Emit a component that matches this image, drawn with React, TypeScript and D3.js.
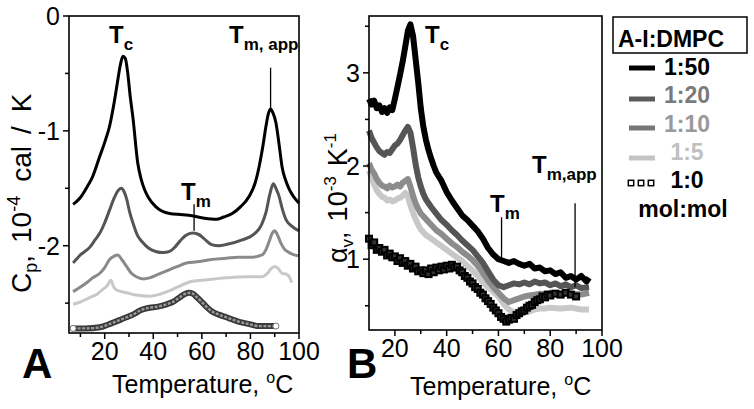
import React from 'react';
import * as d3 from 'd3';

const FONT = "'Liberation Sans', Arial, Helvetica, sans-serif";

// ---------- Panel A: Cp (10^-4 cal/K) vs temperature ----------
const cp50: [number, number][] = [[7,-1.64],[10,-1.58],[12.7,-1.49],[15,-1.40],[18,-1.22],[20,-1.10],[22,-0.96],[24,-0.74],[25,-0.61],[26.5,-0.42],[27.5,-0.35],[28.5,-0.37],[29.5,-0.50],[30.5,-0.70],[31.6,-0.88],[33.6,-1.28],[35,-1.42],[36.4,-1.51],[38,-1.58],[41,-1.66],[46.7,-1.72],[52,-1.73],[56,-1.74],[61,-1.76],[66,-1.77],[69,-1.75],[72.5,-1.72],[76,-1.66],[79.5,-1.57],[82,-1.45],[83.6,-1.31],[85,-1.15],[86.4,-0.96],[87.4,-0.85],[88.3,-0.81],[89.2,-0.84],[90.5,-0.93],[92,-1.15],[93,-1.31],[94.5,-1.43],[96,-1.51],[98,-1.58],[100,-1.63]];
const cp20: [number, number][] = [[7,-2.15],[10,-2.08],[14,-2.01],[16,-1.95],[18,-1.89],[20,-1.80],[22,-1.69],[24,-1.58],[25.5,-1.52],[26.8,-1.50],[28,-1.53],[29,-1.59],[30.2,-1.70],[31.6,-1.80],[33.5,-1.91],[35.6,-1.97],[38,-2.02],[41,-2.05],[44,-2.06],[46.7,-2.05],[49,-2.01],[51,-1.96],[53.5,-1.91],[56,-1.89],[58.5,-1.90],[61,-1.94],[64,-1.99],[67,-2.00],[70,-1.99],[76.6,-1.95],[82,-1.89],[84.5,-1.82],[86.4,-1.71],[88,-1.55],[89.4,-1.46],[90.5,-1.50],[91.8,-1.57],[93,-1.67],[94.6,-1.77],[97,-1.83],[100,-1.87]];
const cp10: [number, number][] = [[7,-2.40],[10,-2.36],[12.7,-2.32],[15,-2.28],[18,-2.24],[20,-2.19],[22,-2.12],[24,-2.09],[25.4,-2.08],[27,-2.12],[29,-2.18],[31,-2.24],[33,-2.27],[36,-2.29],[38.5,-2.28],[42,-2.25],[45.5,-2.22],[50,-2.18],[53.7,-2.15],[58,-2.14],[64,-2.12],[70,-2.11],[75,-2.10],[80,-2.10],[84.8,-2.08],[86.5,-2.03],[87.6,-1.97],[89,-1.89],[90,-1.87],[91,-1.90],[92.6,-1.98],[94,-2.03],[96,-2.06],[98,-2.08],[100,-2.09]];
const cp5: [number, number][] = [[7,-2.51],[10,-2.49],[14,-2.45],[17,-2.42],[19.2,-2.38],[21,-2.35],[22.5,-2.30],[23.5,-2.35],[24.5,-2.38],[27,-2.40],[29,-2.41],[33,-2.43],[38.5,-2.44],[43,-2.42],[48,-2.38],[52,-2.34],[56,-2.31],[60,-2.30],[65,-2.29],[70,-2.28],[78,-2.27],[84.8,-2.27],[87,-2.24],[88.5,-2.20],[90,-2.18],[91.5,-2.20],[93,-2.24],[95,-2.25],[96,-2.27],[97,-2.32]];
const cp0: [number, number][] = [[7,-2.72],[12,-2.72],[18,-2.71],[21,-2.69],[23.5,-2.67],[27,-2.64],[31.6,-2.60],[35,-2.56],[38.5,-2.54],[42,-2.53],[45.5,-2.51],[48,-2.49],[50.8,-2.45],[53,-2.42],[55,-2.41],[56.5,-2.42],[57.5,-2.44],[59.5,-2.48],[61.8,-2.53],[64,-2.57],[67,-2.60],[71,-2.63],[75,-2.66],[79,-2.68],[83.6,-2.70],[90.5,-2.70]];

// ---------- Panel B: alpha_v (10^-3 K^-1) vs temperature ----------
const av50: [number, number][] = [[10,2.72],[11,2.66],[12,2.70],[13,2.62],[14,2.65],[15,2.58],[16,2.62],[17,2.57],[18,2.63],[19,2.60],[20,2.72],[21,2.85],[22,2.98],[23,3.12],[24,3.28],[25,3.45],[26,3.52],[27,3.40],[28,3.15],[29,2.90],[30,2.62],[31,2.42],[32,2.28],[33,2.17],[34,2.08],[35,2.00],[36,1.93],[38,1.84],[40,1.72],[42,1.63],[44,1.55],[46,1.47],[48,1.42],[50,1.36],[52,1.30],[54,1.22],[56,1.12],[58,1.05],[60,1.00],[62,0.98],[64,0.96],[66,0.98],[68,0.95],[70,0.93],[72,0.95],[74,0.90],[76,0.91],[78,0.87],[80,0.88],[82,0.84],[84,0.86],[86,0.80],[88,0.82],[90,0.78],[92,0.82],[94,0.76],[95,0.80]];
const av20: [number, number][] = [[10,2.38],[11,2.30],[12,2.25],[13,2.20],[14,2.16],[15,2.14],[16,2.12],[17,2.15],[18,2.14],[19,2.18],[20,2.22],[21,2.24],[22,2.28],[23,2.33],[24,2.38],[25,2.42],[26,2.36],[27,2.20],[28,2.02],[29,1.88],[30,1.78],[31,1.70],[32,1.64],[34,1.56],[36,1.49],[38,1.42],[40,1.37],[42,1.31],[44,1.26],[46,1.20],[48,1.15],[50,1.10],[52,1.03],[54,0.96],[56,0.87],[58,0.78],[60,0.72],[62,0.70],[64,0.72],[66,0.74],[68,0.73],[70,0.75],[72,0.73],[74,0.76],[76,0.74],[78,0.75],[80,0.72],[82,0.74],[84,0.71],[86,0.73],[88,0.70],[90,0.72],[92,0.69],[95,0.70]];
const av10: [number, number][] = [[10,2.03],[11,1.96],[12,1.92],[13,1.86],[14,1.82],[15,1.79],[16,1.78],[17,1.76],[18,1.79],[19,1.77],[20,1.78],[21,1.80],[22,1.78],[23,1.82],[24,1.84],[25,1.86],[26,1.78],[27,1.68],[28,1.60],[29,1.54],[30,1.49],[32,1.43],[34,1.37],[36,1.31],[38,1.27],[40,1.22],[42,1.17],[44,1.13],[46,1.08],[48,1.04],[50,0.99],[52,0.93],[54,0.85],[56,0.77],[58,0.70],[60,0.64],[62,0.58],[64,0.54],[66,0.56],[68,0.58],[70,0.60],[72,0.61],[74,0.62],[76,0.63],[78,0.62],[80,0.64],[84,0.63],[88,0.63],[92,0.62],[95,0.64]];
const av5: [number, number][] = [[10,1.95],[11,1.88],[12,1.80],[13,1.74],[14,1.70],[15,1.67],[16,1.66],[17,1.63],[18,1.64],[19,1.62],[20,1.63],[21,1.65],[22,1.66],[23,1.68],[24,1.71],[25,1.68],[26,1.58],[27,1.50],[28,1.43],[29,1.37],[30,1.32],[32,1.26],[34,1.22],[36,1.18],[38,1.14],[40,1.10],[42,1.06],[44,1.02],[46,0.98],[48,0.93],[50,0.88],[52,0.82],[54,0.75],[56,0.70],[58,0.65],[60,0.60],[62,0.52],[64,0.46],[66,0.43],[68,0.42],[70,0.43],[72,0.44],[74,0.46],[76,0.47],[78,0.47],[80,0.48],[84,0.47],[88,0.48],[92,0.46],[95,0.46]];
const av0: [number, number][] = [[10,1.22],[11,1.15],[12,1.18],[13,1.10],[14,1.12],[15,1.08],[16,1.10],[17,1.04],[18,1.06],[19,1.02],[20,1.03],[21,0.98],[22,1.01],[23,0.96],[24,0.98],[25,0.93],[26,0.95],[27,0.90],[28,0.92],[29,0.87],[30,0.88],[31,0.85],[32,0.88],[33,0.84],[34,0.90],[35,0.86],[36,0.91],[37,0.88],[38,0.92],[39,0.89],[40,0.93],[41,0.90],[42,0.94],[43,0.91],[44,0.92],[45,0.88],[46,0.86],[47,0.82],[48,0.80],[49,0.76],[50,0.74],[51,0.70],[52,0.68],[53,0.64],[54,0.62],[55,0.58],[56,0.55],[57,0.52],[58,0.48],[59,0.45],[60,0.42],[61,0.38],[62,0.36],[63,0.33],[64,0.35],[65,0.37],[66,0.36],[67,0.40],[68,0.42],[69,0.44],[70,0.45],[71,0.48],[72,0.50],[73,0.51],[74,0.54],[75,0.56],[76,0.57],[77,0.60],[78,0.59],[79,0.62],[80,0.61],[82,0.63],[84,0.62],[86,0.64],[88,0.62],[90,0.60]];

// ticks
const xMajor = [20, 40, 60, 80, 100];
const xMinorA = [10, 30, 50, 70, 90];
const xMinorB = [30, 50, 70, 90];
const yMajorA = [0, -1, -2];
const yMinorA = [-0.5, -1.5, -2.5];
const yMajorB = [1, 2, 3];
const yMinorB = [0.5, 1.5, 2.5, 3.5];

// legend
const legendLabels = ['1:50', '1:20', '1:10', '1:5', '1:0'];
const legendLine = ['#000', '#5a5a5a', '#777', '#c4c4c4', 'none'];
const legendText = ['#000', '#7a7a7a', '#999', '#c0c0c0', '#000'];

const xA = d3.scaleLinear().domain([5.3, 100]).range([69, 299]);
const yA = d3.scaleLinear().domain([-2.76, 0]).range([333, 16]);
const xB = d3.scaleLinear().domain([10, 100]).range([369, 602]);
const yB = d3.scaleLinear().domain([0.24, 3.61]).range([330, 16]);

function Axes({ x, y, yMaj, yMin, xMin }: any) {
  const [x0, x1] = x.range();
  const [y0, y1] = y.range();
  return (
    <g>
      <rect x={x0} y={y1} width={x1 - x0} height={y0 - y1} fill="none" stroke="#000" strokeWidth={1.6} />
      {xMajor.map((t) => (
        <g key={'xM' + t}>
          <line x1={x(t)} x2={x(t)} y1={y0} y2={y0 + 6} stroke="#000" strokeWidth={1.5} />
          <text x={x(t)} y={y0 + 27} textAnchor="middle" fontSize={25} fontFamily={FONT}>{t}</text>
        </g>
      ))}
      {xMin.map((t: number) => (
        <line key={'xm' + t} x1={x(t)} x2={x(t)} y1={y0} y2={y0 + 4} stroke="#000" strokeWidth={1.5} />
      ))}
      {yMaj.map((t: number) => (
        <g key={'yM' + t}>
          <line x1={x0 - 6} x2={x0} y1={y(t)} y2={y(t)} stroke="#000" strokeWidth={1.5} />
          <text x={x0 - 9} y={y(t) + 9} textAnchor="end" fontSize={25} fontFamily={FONT}>{String(t)}</text>
        </g>
      ))}
      {yMin.map((t: number) => (
        <line key={'ym' + t} x1={x0 - 4} x2={x0} y1={y(t)} y2={y(t)} stroke="#000" strokeWidth={1.5} />
      ))}
    </g>
  );
}

function TLabel({ x, y, sub }: { x: number; y: number; sub: string }) {
  return (
    <text x={x} y={y} fontFamily={FONT} fontWeight="bold" fontSize={24}>
      T<tspan fontSize={17} dy={7}>{sub}</tspan>
    </text>
  );
}

export default function App() {
  const lineA = d3.line<[number, number]>().x((d) => xA(d[0])).y((d) => yA(d[1])).curve(d3.curveMonotoneX);
  const lineB = d3.line<[number, number]>().x((d) => xB(d[0])).y((d) => yB(d[1])).curve(d3.curveLinear);
  return (
    <svg width={754} height={409} style={{ position: 'absolute', left: 0, top: 0, background: '#fff' }}>
      <rect x={0} y={0} width={754} height={409} fill="#fff" />
      {/* Panel A */}
      <g>
        <path d={lineA(cp0) || ''} fill="none" stroke="#3a3a3a" strokeWidth={6} strokeLinecap="round" />
        <path d={lineA(cp0) || ''} fill="none" stroke="#9a9a9a" strokeWidth={2.4} strokeDasharray="3 1.5" />
        <circle cx={xA(cp0[0][0])} cy={yA(cp0[0][1])} r={3} fill="#fff" stroke="#777" strokeWidth={1} />
        <circle cx={xA(cp0[cp0.length - 1][0])} cy={yA(cp0[cp0.length - 1][1])} r={3} fill="#fff" stroke="#777" strokeWidth={1} />
        <path d={lineA(cp5) || ''} fill="none" stroke="#c8c8c8" strokeWidth={3} />
        <path d={lineA(cp10) || ''} fill="none" stroke="#8a8a8a" strokeWidth={3} />
        <path d={lineA(cp20) || ''} fill="none" stroke="#555" strokeWidth={3} />
        <path d={lineA(cp50) || ''} fill="none" stroke="#000" strokeWidth={3} />
        <Axes x={xA} y={yA} yMaj={yMajorA} yMin={yMinorA} xMin={xMinorA} />
        <TLabel x={109} y={43} sub="c" />
        <TLabel x={181} y={200} sub="m" />
        <TLabel x={229} y={43} sub="m, app" />
        <line x1={xA(56.8)} x2={xA(56.8)} y1={yA(-1.64)} y2={yA(-1.87)} stroke="#000" strokeWidth={1.3} />
        <line x1={xA(88.3)} x2={xA(88.3)} y1={yA(-0.45)} y2={yA(-0.80)} stroke="#000" strokeWidth={1.3} />
        <text x={22} y={378} fontFamily={FONT} fontWeight="bold" fontSize={42}>A</text>
        <text x={112} y={393} fontFamily={FONT} fontSize={25}>
          Temperature, <tspan fontSize={16} dy={-10}>o</tspan><tspan dy={10}>C</tspan>
        </text>
        <text transform="translate(31,293) rotate(-90)" fontFamily={FONT} fontSize={28}>
          C<tspan fontSize={18} dy={6}>p</tspan><tspan dy={-6}>,</tspan>
          <tspan dx={12}>10</tspan><tspan fontSize={18} dy={-11}>-4</tspan>
          <tspan dy={11} dx={14}>cal</tspan><tspan dx={12}>/</tspan><tspan dx={14}>K</tspan>
        </text>
      </g>

      {/* Panel B */}
      <g>
        <path d={lineB(av5) || ''} fill="none" stroke="#c8c8c8" strokeWidth={6} strokeLinejoin="round" />
        <path d={lineB(av10) || ''} fill="none" stroke="#8c8c8c" strokeWidth={6} strokeLinejoin="round" />
        <path d={lineB(av20) || ''} fill="none" stroke="#555" strokeWidth={6} strokeLinejoin="round" />
        {av0.map((d, i) => (
          <rect key={'sq' + i} x={xB(d[0]) - 3} y={yB(d[1]) - 3} width={6} height={6} fill="#333" stroke="#000" strokeWidth={2} />
        ))}
        <path d={lineB(av50) || ''} fill="none" stroke="#000" strokeWidth={6} strokeLinejoin="round" />
        <Axes x={xB} y={yB} yMaj={yMajorB} yMin={yMinorB} xMin={xMinorB} />
        <TLabel x={425} y={43} sub="c" />
        <TLabel x={490} y={212} sub="m" />
        <TLabel x={532} y={173} sub="m,app" />
        <line x1={xB(61.2)} x2={xB(61.2)} y1={yB(1.45)} y2={yB(1.02)} stroke="#000" strokeWidth={1.3} />
        <line x1={xB(89.6)} x2={xB(89.6)} y1={yB(1.60)} y2={yB(0.70)} stroke="#000" strokeWidth={1.3} />
        <text x={347} y={378} fontFamily={FONT} fontWeight="bold" fontSize={42}>B</text>
        <text x={410} y={395} fontFamily={FONT} fontSize={25}>
          Temperature, <tspan fontSize={16} dy={-10}>o</tspan><tspan dy={10}>C</tspan>
        </text>
        <text transform="translate(347,263) rotate(-90)" fontFamily={FONT} fontSize={27}>
          α<tspan fontSize={17} dy={6}>v</tspan><tspan dy={-6}>,</tspan>
          <tspan dx={10}>10</tspan><tspan fontSize={17} dy={-11}>-3</tspan>
          <tspan dy={11} dx={10}>K</tspan><tspan fontSize={17} dy={-11}>-1</tspan>
        </text>
      </g>

      {/* Legend */}
      <g fontFamily={FONT} fontWeight="bold">
        <rect x={613} y={17} width={134} height={36} fill="#fff" stroke="#000" strokeWidth={1.5} />
        <text x={618} y={47} fontSize={23}>A-I:DMPC</text>
        {legendLabels.map((lab, i) => {
          const ys = [68, 99, 128, 158, 183];
          const yt = [75, 103, 132, 160, 188];
          return (
            <g key={lab}>
              {legendLine[i] !== 'none' ? (
                <line x1={629} x2={655} y1={ys[i]} y2={ys[i]} stroke={legendLine[i]} strokeWidth={5} />
              ) : (
                [631, 641, 651].map((cx) => (
                  <rect key={cx} x={cx - 2.7} y={ys[i] - 2.7} width={5.4} height={5.4} fill="#fff" stroke="#000" strokeWidth={1.5} />
                ))
              )}
              <text x={687} y={yt[i]} textAnchor="middle" fontSize={23} fill={legendText[i]}>{lab}</text>
            </g>
          );
        })}
        <text x={683} y={217} textAnchor="middle" fontSize={23}>mol:mol</text>
      </g>
    </svg>
  );
}
